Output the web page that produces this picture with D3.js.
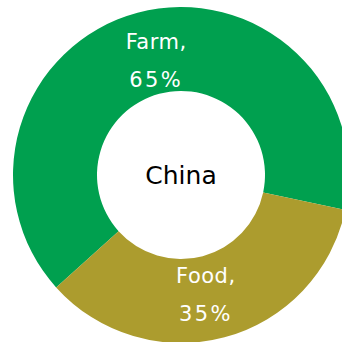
<!DOCTYPE html>
<html><head><meta charset="utf-8">
<script src="https://cdn.jsdelivr.net/npm/d3@7"></script>
<style>html,body{margin:0;padding:0;background:#fff;overflow:hidden}</style>
</head><body>
<svg id="c" width="342" height="342"></svg>
<script>
const categories = ["Farm", "Food"];
const values = [65, 35];
const colors = ["#00A04F", "#AC9C2E"];
const centerLabel = "China";

const svg = d3.select("#c");
const cx = 181, cy = 175, outerR = 168, innerR = 84;
const g = svg.append("g").attr("transform", `translate(${cx},${cy})`);

const startA = -132 * Math.PI / 180;
const pie = d3.pie().sort(null).value(d => d.v)
  .startAngle(startA).endAngle(startA + 2 * Math.PI);
const data = pie(categories.map((c, i) => ({c, v: values[i]})));
const arc = d3.arc().innerRadius(innerR).outerRadius(outerR);
const color = d3.scaleOrdinal().domain(categories).range(colors);

g.selectAll("path.s").data(data).join("path")
  .attr("class", "s")
  .attr("d", arc)
  .attr("fill", d => color(d.data.c));

const labelR = 119.5, labelRot = 3 * Math.PI / 180;
const lab = g.selectAll("g.l").data(data).join("g")
  .attr("class", "l")
  .attr("transform", d => {
    const a = (d.startAngle + d.endAngle) / 2 + labelRot;
    return `translate(${labelR * Math.sin(a)},${-labelR * Math.cos(a) + 2})`;
  });
lab.append("text")
  .attr("text-anchor", "middle").attr("y", -11)
  .attr("font-family", "DejaVu Sans").attr("font-size", 21).attr("fill", "#fff")
  .attr("letter-spacing", 0.5)
  .text(d => d.data.c + ",");
lab.append("text")
  .attr("text-anchor", "middle").attr("y", 27)
  .attr("font-family", "DejaVu Sans").attr("font-size", 21).attr("fill", "#fff")
  .attr("letter-spacing", 2.3)
  .text(d => d.data.v + "%");

g.append("text").attr("text-anchor", "middle").attr("y", 9)
  .attr("font-family", "DejaVu Sans").attr("font-size", 25).attr("fill", "#000")
  .text(centerLabel);
</script>
</body></html>
